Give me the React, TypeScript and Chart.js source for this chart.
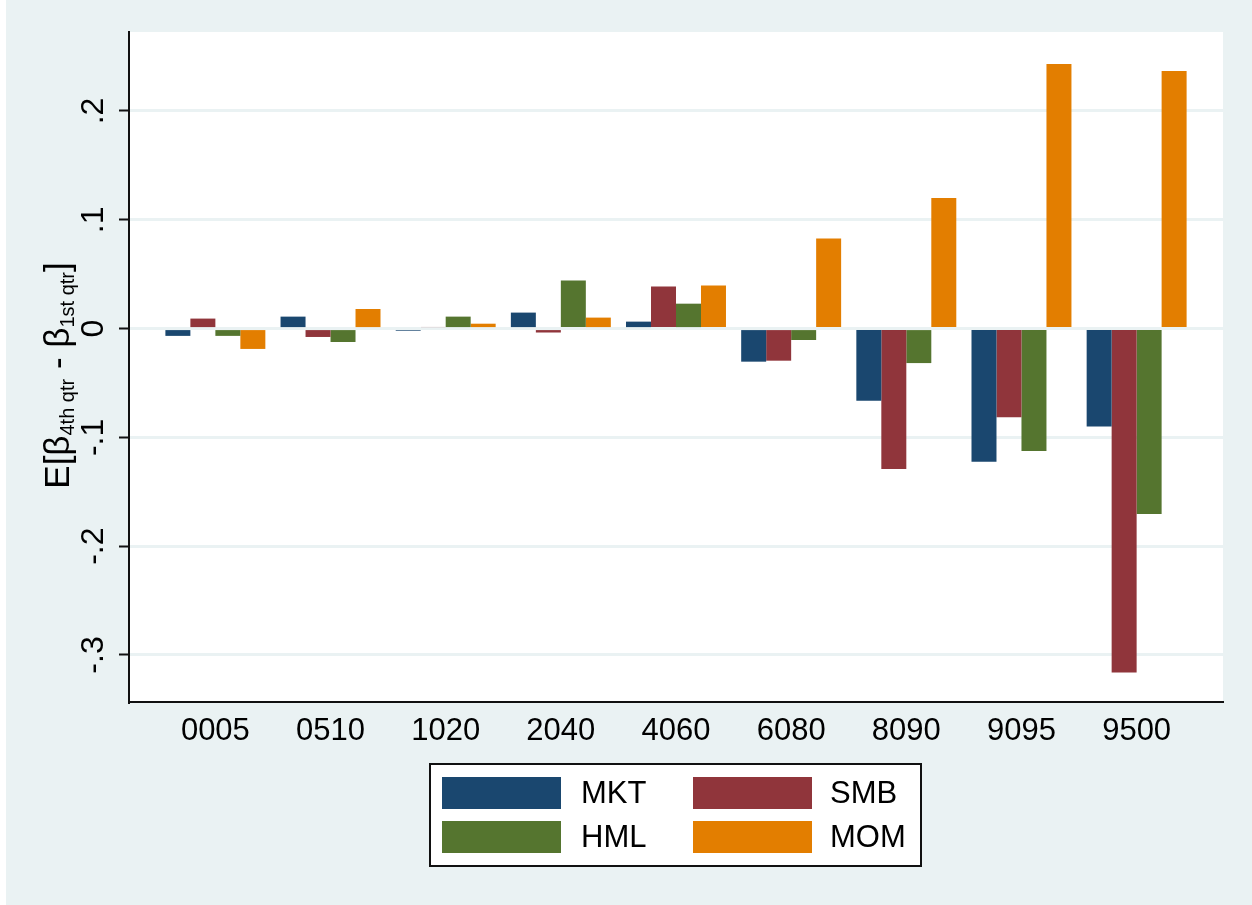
import React, { useEffect, useRef } from 'react';
import { Chart, registerables } from 'chart.js';

Chart.register(...registerables);

const categories = ['0005', '0510', '1020', '2040', '4060', '6080', '8090', '9095', '9500'];
const seriesNames = ['MKT', 'SMB', 'HML', 'MOM'];
const mktValues = [-0.0067, 0.011, -0.002, 0.0147, 0.0064, -0.0304, -0.0663, -0.1223, -0.0901];
const smbValues = [0.0092, -0.0077, 0.0015, -0.0036, 0.0386, -0.0295, -0.129, -0.0815, -0.316];
const hmlValues = [-0.0067, -0.0123, 0.011, 0.0443, 0.0229, -0.0105, -0.0317, -0.1126, -0.1703];
const momValues = [-0.0187, 0.018, 0.0045, 0.0101, 0.0395, 0.0828, 0.1201, 0.2432, 0.2368];
const seriesColors = ['#1A476F', '#90353B', '#55752F', '#E37E00'];
const yTicks = [-0.3, -0.2, -0.1, 0, 0.1, 0.2];
const yTickLabels = ['-.3', '-.2', '-.1', '0', '.1', '.2'];
// y-axis title pieces: [text, isSubscript]
const yTitleParts: [string, boolean][] = [
  ['E[β', false],
  ['4th qtr', true],
  [' - β', false],
  ['1st qtr', true],
  [']', false],
];

const FONT = '"Liberation Sans", Arial, sans-serif';
const OUTER_BG = '#EAF2F3';
const GRID = '#EAF2F3';

const backgroundPlugin = {
  id: 'bgPlugin',
  beforeDraw(chart: any) {
    const { ctx, width, height, chartArea } = chart;
    ctx.save();
    ctx.fillStyle = '#ffffff';
    ctx.fillRect(0, 0, width, height);
    ctx.fillStyle = OUTER_BG;
    ctx.fillRect(6, 0, width - 6, height);
    ctx.fillStyle = '#ffffff';
    ctx.fillRect(chartArea.left, chartArea.top, chartArea.right - chartArea.left, chartArea.bottom - chartArea.top);
    ctx.restore();
  },
};

const titleLegendPlugin = {
  id: 'titleLegend',
  afterDraw(chart: any) {
    const ctx = chart.ctx;
    const ca = chart.chartArea;
    // tidy the corner below the axes
    ctx.save();
    ctx.fillStyle = OUTER_BG;
    ctx.fillRect(ca.left - 6, ca.bottom + 2, 10, 12);
    ctx.restore();

    // Y axis title with subscripts
    ctx.save();
    ctx.translate(69, 375.5);
    ctx.rotate(-Math.PI / 2);
    ctx.fillStyle = '#000';
    ctx.textBaseline = 'alphabetic';
    ctx.textAlign = 'left';
    const mainFont = `35px ${FONT}`;
    const subFont = `20px ${FONT}`;
    let total = 0;
    const widths: number[] = [];
    for (const [t, sub] of yTitleParts) {
      ctx.font = sub ? subFont : mainFont;
      const w = ctx.measureText(t).width;
      widths.push(w);
      total += w;
    }
    let x = -total / 2;
    yTitleParts.forEach(([t, sub], i) => {
      ctx.font = sub ? subFont : mainFont;
      ctx.fillText(t, x, sub ? 5 : 0);
      x += widths[i];
    });
    ctx.restore();

    // Legend box
    ctx.save();
    const bx = 430, by = 764, bw = 491, bh = 102;
    ctx.fillStyle = '#ffffff';
    ctx.fillRect(bx, by, bw, bh);
    ctx.strokeStyle = '#111';
    ctx.lineWidth = 2;
    ctx.strokeRect(bx, by, bw, bh);
    const colX = [442, 693];
    const textX = [581, 830];
    const rowY = [777, 821];
    ctx.font = `31px ${FONT}`;
    ctx.textBaseline = 'middle';
    ctx.textAlign = 'left';
    chart.data.datasets.forEach((ds: any, i: number) => {
      const c = i % 2;
      const r = Math.floor(i / 2);
      ctx.fillStyle = ds.backgroundColor;
      ctx.fillRect(colX[c], rowY[r], 119, 32);
      ctx.fillStyle = '#000';
      ctx.fillText(ds.label, textX[c], rowY[r] + 17);
    });
    ctx.restore();
  },
};

export default function App() {
  const canvasRef = useRef<HTMLCanvasElement | null>(null);

  useEffect(() => {
    document.body.style.margin = '0';
    const canvas = canvasRef.current;
    if (!canvas) return;
    const allSeries = [mktValues, smbValues, hmlValues, momValues];
    const chart = new Chart(canvas, {
      type: 'bar',
      data: {
        datasets: allSeries.map((vals, s) => ({
          label: seriesNames[s],
          data: vals.map((v, i) => ({ x: i, y: v })),
          backgroundColor: seriesColors[s],
          borderWidth: 0,
          categoryPercentage: 0.868,
          barPercentage: 1,
        })),
      },
      options: {
        responsive: false,
        animation: false,
        layout: { padding: { left: 0, top: 32, right: 29, bottom: 0 } },
        plugins: {
          legend: { display: false },
          tooltip: { enabled: false },
          title: { display: false },
        },
        scales: {
          x: {
            type: 'linear',
            position: 'bottom',
            min: -0.75,
            max: 8.75,
            offset: false,
            grid: { display: false, drawTicks: false, offset: false },
            border: { display: true, color: '#111', width: 2 },
            afterBuildTicks: (scale: any) => {
              scale.ticks = categories.map((_, i) => ({ value: i }));
            },
            afterFit: (scale: any) => {
              scale.height = 203;
            },
            ticks: {
              autoSkip: false,
              maxRotation: 0,
              minRotation: 0,
              padding: 11,
              color: '#000',
              font: { size: 31, family: FONT },
              callback: (v: any) => categories[Math.round(Number(v))] ?? '',
            },
          },
          y: {
            type: 'linear',
            position: 'left',
            min: -0.3432,
            max: 0.2726,
            grid: {
              color: GRID,
              lineWidth: 3,
              drawTicks: true,
              tickLength: 10,
              tickColor: '#111',
              tickWidth: 2,
            },
            border: { display: true, color: '#111', width: 2 },
            afterBuildTicks: (scale: any) => {
              scale.ticks = yTicks.map((v) => ({ value: v }));
            },
            afterFit: (scale: any) => {
              scale.width = 129;
            },
            ticks: {
              autoSkip: false,
              minRotation: 90,
              maxRotation: 90,
              crossAlign: 'center',
              padding: 6,
              color: '#000',
              font: { size: 32, family: FONT },
              callback: (v: any) => {
                const idx = yTicks.findIndex((t) => Math.abs(t - Number(v)) < 1e-9);
                return idx >= 0 ? yTickLabels[idx] : '';
              },
            },
          },
        },
      } as any,
      plugins: [backgroundPlugin, titleLegendPlugin],
    });
    return () => chart.destroy();
  }, []);

  return <canvas ref={canvasRef} width={1252} height={905} style={{ display: 'block' }} />;
}
